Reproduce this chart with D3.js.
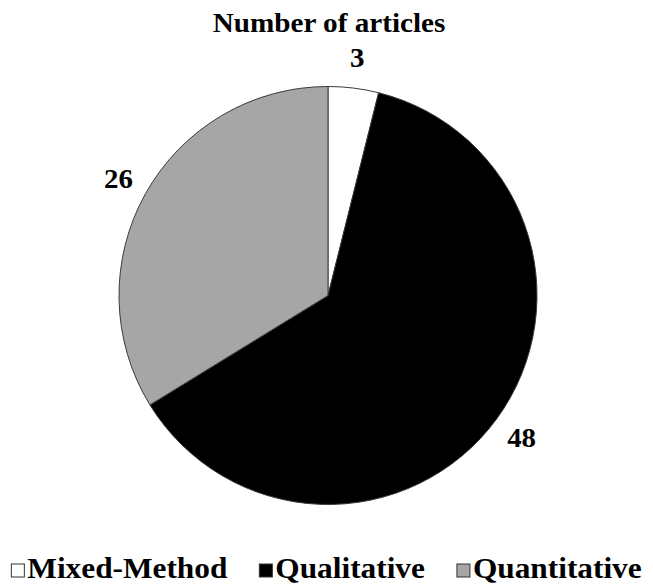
<!DOCTYPE html>
<html lang="en">
<head>
<meta charset="utf-8">
<script src="https://d3js.org/d3.v7.min.js"></script>
<style type="text/css">
body {
	margin: 0;
	background: #fff;
}
text {
	font-family: "Liberation Serif", "Times New Roman", serif;
	font-weight: bold;
	fill: #000;
}
</style>
</head>
<body>
<script type="text/javascript">

// data
var categories = ["Mixed-Method", "Qualitative", "Quantitative"];
var counts = [3, 48, 26];
var colors = ["#ffffff", "#000000", "#a6a6a6"];
var title = "Number of articles";

var width = 653;
var height = 585;
var cx = 328, cy = 295.5;
var radius = 209;
var labelRadius = 240;

var svg = d3.select("body")
	.append("svg")
	.attr("width", width)
	.attr("height", height);

// helper: bold text, slightly widened like the original
function wideText(parent, x, y, str, size, stretch, anchor) {
	return parent.append("g")
		.attr("transform", "translate(" + x + "," + y + ")")
		.append("text")
		.attr("transform", "scale(" + stretch + ",1)")
		.attr("text-anchor", anchor || "middle")
		.style("font-size", size + "px")
		.text(str);
}

// title
wideText(svg, 329, 32, title, 27, 1.08);

var pie = d3.pie()
	.sort(null)
	.value(function(d) { return d; });

var arcs = pie(counts);

var arc = d3.arc()
	.innerRadius(0)
	.outerRadius(radius);

var labelArc = d3.arc()
	.innerRadius(labelRadius)
	.outerRadius(labelRadius);

var chart = svg.append("g")
	.attr("transform", "translate(" + cx + "," + cy + ")");

chart.selectAll("path")
	.data(arcs)
	.enter()
	.append("path")
	.attr("d", arc)
	.attr("fill", function(d, i) { return colors[i]; })
	.attr("stroke", "#3a3a3a")
	.attr("stroke-width", 1);

// value labels
arcs.forEach(function(d, i) {
	var c = labelArc.centroid(d);
	wideText(chart, c[0], c[1] + 9.5, counts[i], 27, 1.07);
});

// legend
var legend = svg.append("g");
var sq = 13, sqGap = 3, itemGap = 32;
var fs = 29, st = 1.08;
var x = 0;
categories.forEach(function(name, i) {
	var g = legend.append("g").attr("transform", "translate(" + x + ",0)");
	g.append("rect")
		.attr("x", 0)
		.attr("y", -sq - 1)
		.attr("width", sq)
		.attr("height", sq)
		.attr("fill", colors[i])
		.attr("stroke", "#333")
		.attr("stroke-width", 1);
	var t = wideText(g, sq + sqGap, 0, name, fs, st, "start");
	var w = t.node().getComputedTextLength() * st;
	x += sq + sqGap + w + itemGap;
});
var total = x - itemGap;
legend.attr("transform", "translate(" + ((width - total) / 2) + ",578)");

</script>
</body>
</html>
